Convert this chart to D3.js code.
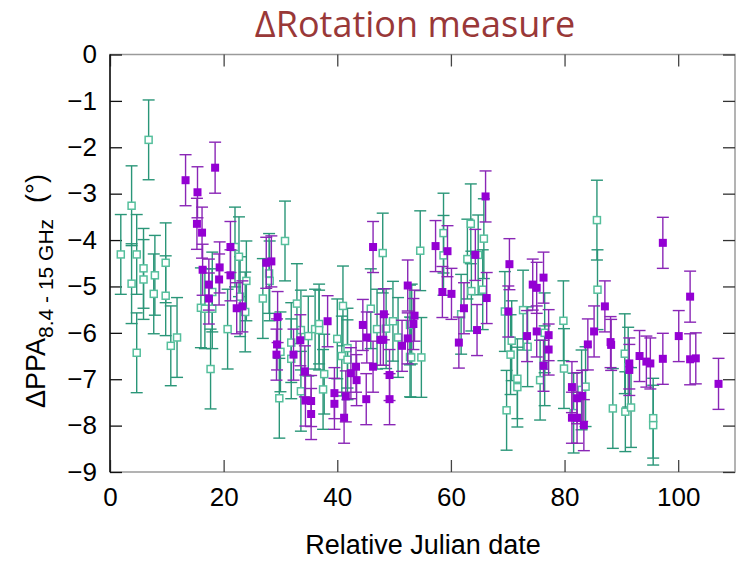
<!DOCTYPE html>
<html>
<head>
<meta charset="utf-8">
<script src="https://cdn.jsdelivr.net/npm/d3@7"></script>
<style>
  body { margin: 0; background: #fff; }
  .chart text { font-family: "Liberation Sans", Arial, sans-serif; }
</style>
</head>
<body>
<div class="chart"></div>
<script>
const xTicks = [0, 20, 40, 60, 80, 100];
const yTicks = [0, -1, -2, -3, -4, -5, -6, -7, -8, -9];

// open squares (teal)
const tealX = [1.9, 3.8, 3.8, 4.7, 4.7, 5.9, 5.9, 6.8, 7.7, 7.9, 9.8, 9.8, 10.7, 11.8,
  16.0, 16.7, 17.7, 18.0, 18.0, 20.7, 22.0, 22.7, 22.9, 23.8, 24.0, 26.9, 28.0, 28.1,
  29.8, 30.0, 30.8, 31.9, 31.9, 32.9, 33.6, 33.6, 34.9, 36.1, 36.8, 36.8, 37.5, 37.7,
  40.0, 40.8, 41.0, 41.8, 41.8, 45.9, 47.0, 48.0, 48.6, 49.8, 50.7, 52.8, 52.8, 53.1,
  53.0, 54.8, 54.6, 58.7, 58.7, 61.8, 62.9, 63.5, 63.6, 64.8, 65.6, 65.8, 69.5, 69.8,
  70.5, 70.7, 71.7, 71.7, 72.7, 73.5, 75.7, 76.5, 76.5, 79.8, 79.9, 81.6, 83.0, 83.7,
  85.7, 85.8, 88.5, 90.6, 90.7, 91.2, 91.7, 95.6, 95.6];
const tealY = [-4.31, -3.26, -4.94, -4.31, -6.43, -4.61, -4.85, -1.84, -5.16, -4.76, -4.49, -5.2, -6.28, -6.1,
  -5.46, -5.48, -6.78, -5.12, -5.48, -5.92, -4.15, -4.36, -5.22, -5.55, -4.88, -5.26, -4.72, -4.88,
  -7.41, -6.41, -4.02, -6.21, -6.56, -5.37, -5.94, -7.26, -6.07, -5.92, -5.81, -5.94, -7.22, -6.89,
  -6.13, -6.5, -5.42, -6.33, -6.58, -5.48, -5.92, -4.28, -5.91, -5.75, -6.1, -5.83, -6.52, -5.81,
  -6.53, -6.53, -4.23, -3.85, -4.33, -5.6, -4.41, -3.65, -5.1, -4.32, -5.07, -3.97, -5.54, -7.67,
  -6.47, -6.17, -6.99, -7.17, -5.51, -6.3, -7.02, -6.0, -6.71, -5.74, -6.77, -7.73, -7.23, -7.16,
  -3.57, -5.07, -7.63, -6.45, -7.7, -6.74, -7.61, -7.84, -7.99];
const tealErr = 0.86;

// filled squares (purple)
const purpleX = [13.3, 15.4, 18.5, 15.3, 16.2, 16.3, 17.4, 17.4, 19.2, 19.3, 21.2, 21.2, 22.3, 23.3,
  27.5, 28.4, 29.3, 29.4, 29.5, 32.3, 33.5, 34.3, 34.4, 35.4, 35.4, 38.3, 39.5, 39.5,
  41.2, 41.5, 42.4, 43.3, 43.4, 44.5, 45.1, 45.2, 46.3, 46.3, 47.6, 48.1, 48.2, 49.2,
  49.2, 51.4, 52.4, 52.4, 53.4, 53.6, 57.3, 58.5, 59.4, 60.1, 61.4, 62.3, 64.3, 64.6,
  66.1, 66.3, 70.1, 70.3, 73.4, 74.4, 75.1, 75.1, 76.3, 76.3, 77.2, 77.2, 81.3, 81.3,
  82.2, 82.2, 83.1, 83.4, 84.1, 85.2, 87.1, 88.1, 88.2, 91.4, 91.4, 93.2, 94.4, 95.1,
  97.3, 97.3, 100.1, 102.1, 102.1, 103.1, 107.1];
const purpleY = [-2.71, -2.97, -2.44, -3.65, -3.84, -4.64, -4.96, -5.26, -4.85, -4.59, -4.15, -4.76, -5.47, -5.43,
  -4.49, -4.46, -6.47, -6.25, -5.66, -6.47, -6.16, -6.83, -7.46, -7.47, -7.75, -5.75, -7.3, -7.53,
  -7.83, -7.37, -6.87, -6.73, -7.02, -5.83, -7.43, -6.1, -4.15, -6.73, -6.15, -6.15, -5.6, -6.91,
  -7.43, -6.28, -4.98, -6.12, -5.81, -5.63, -4.13, -5.12, -4.24, -5.16, -6.21, -5.47, -4.32, -5.94,
  -3.06, -5.25, -5.54, -4.52, -6.07, -4.96, -5.03, -5.97, -4.81, -6.71, -6.05, -6.36, -7.17, -7.83,
  -7.41, -7.83, -7.36, -7.99, -6.25, -5.97, -5.43, -6.2, -6.26, -6.66, -6.8, -6.5, -6.62, -6.66,
  -4.06, -6.56, -6.07, -5.22, -6.57, -6.55, -7.1];
const purpleErr = 0.55;

const W = 737, H = 561;
const margin = { top: 54.5, left: 110, bottom: 89, right: 2 };
const width = W - margin.left - margin.right,
  height = H - margin.top - margin.bottom;

const svg = d3
  .select(".chart")
  .append("svg")
  .attr("width", W)
  .attr("height", H);

const g = svg
  .append("g")
  .attr("transform", `translate(${margin.left},${margin.top})`);

const xScale = d3.scaleLinear().domain([0, 110]).range([0, width]);
const yScale = d3.scaleLinear().domain([-9, 0]).range([height, 0]);

// frame
g.append("rect")
  .attr("width", width)
  .attr("height", height)
  .attr("fill", "none")
  .attr("stroke", "#9a9a9a")
  .attr("stroke-width", 1.5);

const axisStyle = (sel, col) => {
  sel.select(".domain").remove();
  sel.selectAll(".tick line").attr("stroke", col).attr("stroke-width", 1.3);
  sel.selectAll(".tick text")
    .attr("fill", "#000")
    .attr("font-size", "26px")
    .attr("font-family", "'Liberation Sans', Arial, sans-serif");
};

g.append("g")
  .attr("transform", `translate(0,${height})`)
  .call(d3.axisBottom(xScale).tickValues(xTicks).tickSize(-12).tickPadding(16).tickFormat(d3.format("d")))
  .call((s) => axisStyle(s, "#444"));

g.append("g")
  .call(d3.axisTop(xScale).tickValues(xTicks).tickSize(-12).tickFormat(""))
  .call((s) => axisStyle(s, "#444"));

g.append("g")
  .call(d3.axisLeft(yScale).tickValues(yTicks).tickSize(-12).tickPadding(13).tickFormat(d3.format("d")))
  .call((s) => axisStyle(s, "#111"));

g.append("g")
  .attr("transform", `translate(${width},0)`)
  .call(d3.axisRight(yScale).tickValues(yTicks).tickSize(-12).tickFormat(""))
  .call((s) => axisStyle(s, "#333"));

g.append("line")
  .attr("x1", 0).attr("x2", 0)
  .attr("y1", 0).attr("y2", height)
  .attr("stroke", "#111")
  .attr("stroke-width", 1.5);

const teal = tealX.map((x, i) => ({ x: x, y: tealY[i], e: tealErr }));
const purple = purpleX.map((x, i) => ({ x: x, y: purpleY[i], e: purpleErr }));

const drawBars = (data, col, cls) => {
  const bars = g.append("g").attr("class", cls)
    .selectAll("g")
    .data(data)
    .enter()
    .append("g")
    .attr("stroke", col)
    .attr("stroke-width", 1.4);
  bars.append("line")
    .attr("x1", (d) => xScale(d.x)).attr("x2", (d) => xScale(d.x))
    .attr("y1", (d) => yScale(d.y + d.e)).attr("y2", (d) => yScale(d.y - d.e));
  bars.append("line")
    .attr("x1", (d) => xScale(d.x) - 6).attr("x2", (d) => xScale(d.x) + 6)
    .attr("y1", (d) => yScale(d.y + d.e)).attr("y2", (d) => yScale(d.y + d.e));
  bars.append("line")
    .attr("x1", (d) => xScale(d.x) - 6).attr("x2", (d) => xScale(d.x) + 6)
    .attr("y1", (d) => yScale(d.y - d.e)).attr("y2", (d) => yScale(d.y - d.e));
};

drawBars(teal, "#2a9678", "teal-bars");

g.append("g")
  .selectAll("rect")
  .data(teal)
  .enter()
  .append("rect")
  .attr("x", (d) => xScale(d.x) - 3.5)
  .attr("y", (d) => yScale(d.y) - 3.5)
  .attr("width", 7)
  .attr("height", 7)
  .attr("fill", "#fff")
  .attr("stroke", "#55bf9c")
  .attr("stroke-width", 1.5);

drawBars(purple, "#8a26b6", "purple-bars");

g.append("g")
  .selectAll("rect")
  .data(purple)
  .enter()
  .append("rect")
  .attr("x", (d) => xScale(d.x) - 4)
  .attr("y", (d) => yScale(d.y) - 4)
  .attr("width", 8)
  .attr("height", 8)
  .attr("fill", "#9400d3");

// texts
svg.append("text")
  .attr("x", 415)
  .attr("y", 37)
  .attr("text-anchor", "middle")
  .attr("fill", "#993838")
  .style("font-family", "'Open Sans', 'Noto Sans', sans-serif")
  .style("font-size", "36px")
  .text("ΔRotation measure");

svg.append("text")
  .attr("x", 423)
  .attr("y", 554)
  .attr("text-anchor", "middle")
  .attr("font-size", "27px")
  .text("Relative Julian date");

const ylab = svg.append("text")
  .attr("transform", "translate(45,408) rotate(-90)")
  .attr("font-size", "27px");
ylab.append("tspan").text("ΔPPA");
ylab.append("tspan").attr("font-size", "21px").attr("dy", 8).text("8.4 - 15 GHz");
ylab.append("tspan").attr("dy", -8).attr("dx", 16).text("(°)");
</script>
</body>
</html>
